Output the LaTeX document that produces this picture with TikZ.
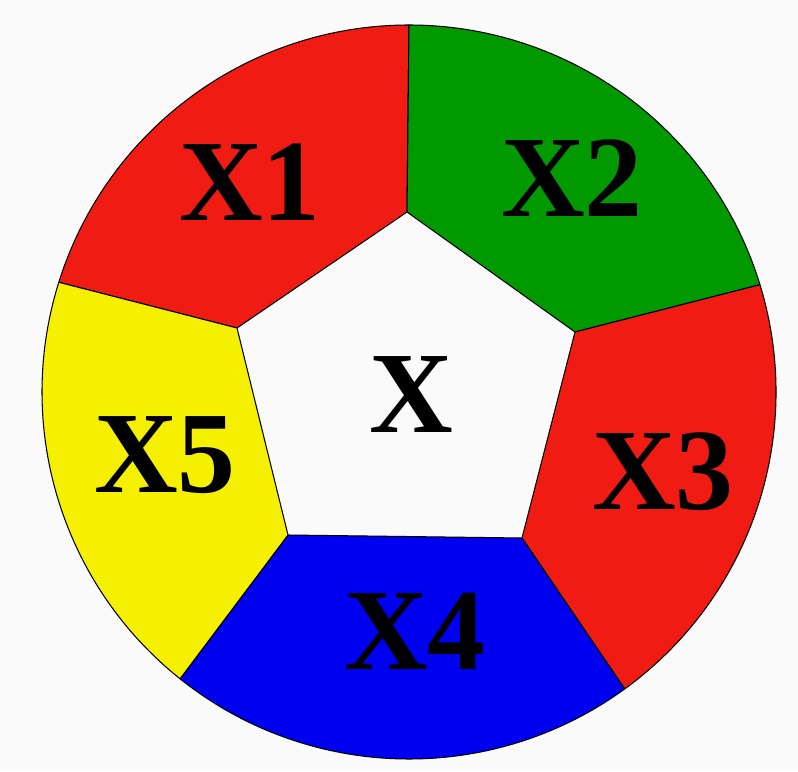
\documentclass[tikz,border=0pt]{standalone}
\usepackage{fontspec}
\setmainfont{Liberation Serif}
\usetikzlibrary{calc}
\definecolor{bgwhite}{RGB}{250,250,250}
\definecolor{segred}{RGB}{240,28,20}
\definecolor{seggreen}{RGB}{0,153,0}
\definecolor{segblue}{RGB}{0,0,240}
\definecolor{segyellow}{RGB}{245,240,0}
\tikzset{
  seg/.style={draw=black, line width=0.9pt, line join=round},
  lbl/.style={inner sep=0pt, font=\fontsize{99}{99}\selectfont\bfseries, text=black}
}
\begin{document}
\begin{tikzpicture}[x=0.3mm, y=0.3mm]
\fill[bgwhite] (0,0) rectangle (798,-771);
\useasboundingbox (0,0) rectangle (798,-771);
\def\R{367}
\coordinate (C) at (409,-392);
% pentagon vertices
\coordinate (T)  at (407,-212);
\coordinate (PR) at (575,-332);
\coordinate (BR) at (522,-538);
\coordinate (BL) at (288,-535);
\coordinate (PL) at (237,-328);
% spoke ends on the rim
\coordinate (E1) at ($(C)+(90:\R)$);
\coordinate (E2) at ($(C)+(17:\R)$);
\coordinate (E3) at ($(C)+(-54:\R)$);
\coordinate (E4) at ($(C)+(231.4:\R)$);
\coordinate (E5) at ($(C)+(162.6:\R)$);
% centre pentagon
\fill[bgwhite] (T) -- (PR) -- (BR) -- (BL) -- (PL) -- cycle;
% regions
\path[seg, fill=segred]    (T)  -- (E1) arc[start angle=90, end angle=162.6, radius=\R] -- (PL) -- cycle;
\path[seg, fill=seggreen]  (T)  -- (E1) arc[start angle=90, end angle=17, radius=\R] -- (PR) -- cycle;
\path[seg, fill=segred]    (PR) -- (E2) arc[start angle=17, end angle=-54, radius=\R] -- (BR) -- cycle;
\path[seg, fill=segblue]   (BR) -- (E3) arc[start angle=-54, end angle=-128.6, radius=\R] -- (BL) -- cycle;
\path[seg, fill=segyellow] (BL) -- (E4) arc[start angle=231.4, end angle=162.6, radius=\R] -- (PL) -- cycle;
% labels
\node[lbl] (x)  at (411,-395) {X};
\node[lbl] (x1) at (250,-182) {X1};
\node[lbl] (x2) at (572,-178) {X2};
\node[lbl] (x3) at (663,-472) {X3};
\node[lbl] (x4) at (415,-631) {X4};
\node[lbl] (x5) at (165,-455) {X5};
\end{tikzpicture}
\end{document}
